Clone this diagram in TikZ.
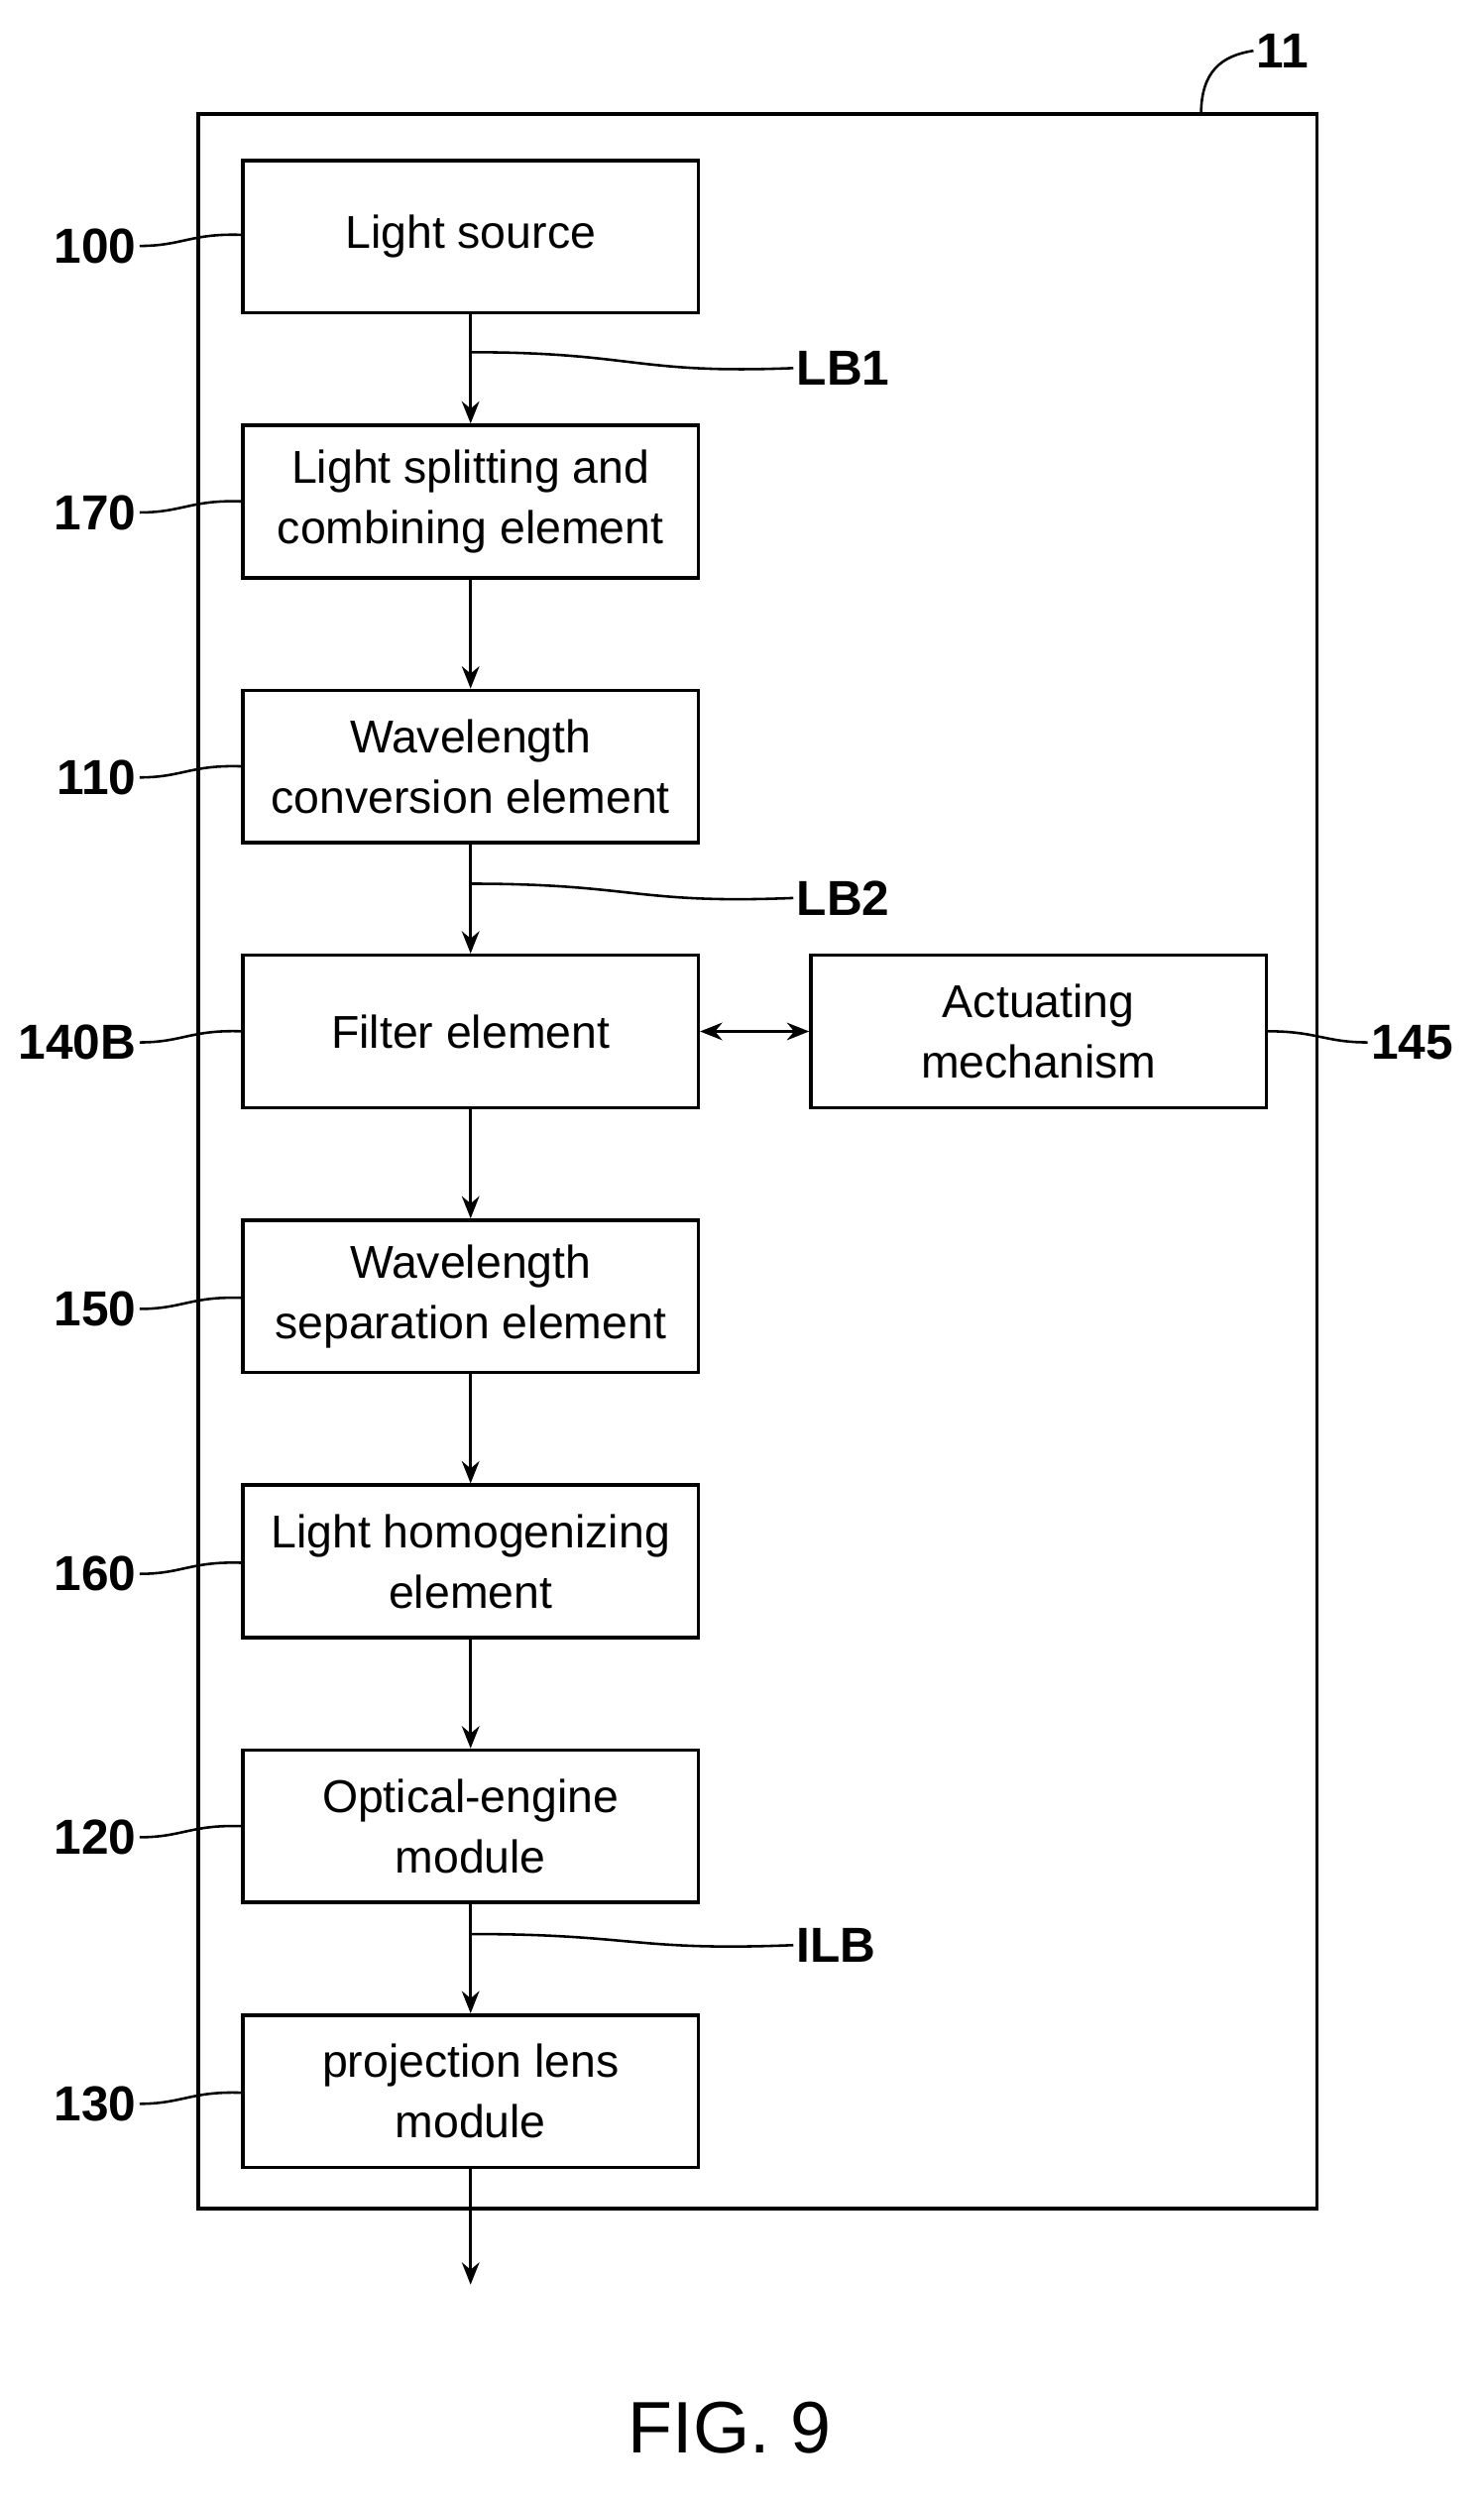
\documentclass[tikz,border=0pt]{standalone}
\usepackage{fontspec}
\setmainfont{Liberation Sans}
\usetikzlibrary{arrows.meta, positioning}
\tikzset{
  block/.style={draw, line width=2.2pt, minimum width=287pt, minimum height=96pt, align=center, inner sep=0pt, font=\fontsize{29}{38}\selectfont},
  flow/.style={line width=2.2pt, -{Stealth[length=14pt,width=11pt]}},
  lead/.style={line width=1.6pt},
  num/.style={font=\bfseries\fontsize{31}{31}\selectfont, inner sep=2pt}
}
\begin{document}
\begin{tikzpicture}[x=1pt,y=-1pt]
\useasboundingbox (0,0) rectangle (935,1577);
\draw[line width=2.2pt] (125,72) rectangle (830,1392);
% main chain
\node[block, anchor=north west] (src) at (152,100) {Light source};
\node[block, anchor=north west] (split) at (152,267) {Light splitting and\\combining element};
\node[block, anchor=north west] (conv) at (152,434) {Wavelength\\conversion element};
\node[block, anchor=north west] (filt) at (152,601) {Filter element};
\node[block, anchor=north west] (act) at (510,601) {Actuating\\mechanism};
\node[block, anchor=north west] (sep) at (152,768) {Wavelength\\separation element};
\node[block, anchor=north west] (homo) at (152,935) {Light homogenizing\\element};
\node[block, anchor=north west] (eng) at (152,1102) {Optical-engine\\module};
\node[block, anchor=north west] (lens) at (152,1269) {projection lens\\module};
\coordinate (out) at (295,1440);
\draw[flow] (src) -- (split);
\draw[flow] (split) -- (conv);
\draw[flow] (conv) -- (filt);
\draw[flow] (filt) -- (sep);
\draw[flow] (sep) -- (homo);
\draw[flow] (homo) -- (eng);
\draw[flow] (eng) -- (lens);
\draw[flow] (lens.south) -- (lens.south |- out);
\draw[line width=2.2pt, {Stealth[length=14pt,width=11pt]}-{Stealth[length=14pt,width=11pt]}] (filt) -- (act);
% reference numerals
\foreach \b/\t/\y in {src/100/155, split/170/323, conv/110/490, filt/140B/657, sep/150/825, homo/160/992, eng/120/1158, lens/130/1326} {
  \node[num, anchor=east] (n\t) at (88,\y) {\t};
  \draw[lead] (n\t.east) .. controls (115,\y) and (120,\y-8) .. (\b.west |- 0,\y-7);
}
\node[num, anchor=west] (n145) at (862,657) {145};
\draw[lead] (act.east |- 0,650) .. controls (830,650) and (835,657) .. (n145.west);
\node[num, anchor=west] (nLB1) at (500,232) {LB1};
\draw[lead] (src.south |- 0,222) .. controls (400,222) and (400,236) .. (nLB1.west);
\node[num, anchor=west] (nLB2) at (500,566) {LB2};
\draw[lead] (conv.south |- 0,557) .. controls (400,557) and (400,570) .. (nLB2.west);
\node[num, anchor=west] (nILB) at (500,1226) {ILB};
\draw[lead] (eng.south |- 0,1219) .. controls (400,1219) and (400,1230) .. (nILB.west);
\node[num, anchor=west] (n11) at (790,32) {11};
\draw[lead] (757,72) .. controls (757,45) and (770,35) .. (n11.west);
\node[font=\fontsize{46}{46}\selectfont] (fig) at (460,1530) {FIG. 9};
\end{tikzpicture}
\end{document}
